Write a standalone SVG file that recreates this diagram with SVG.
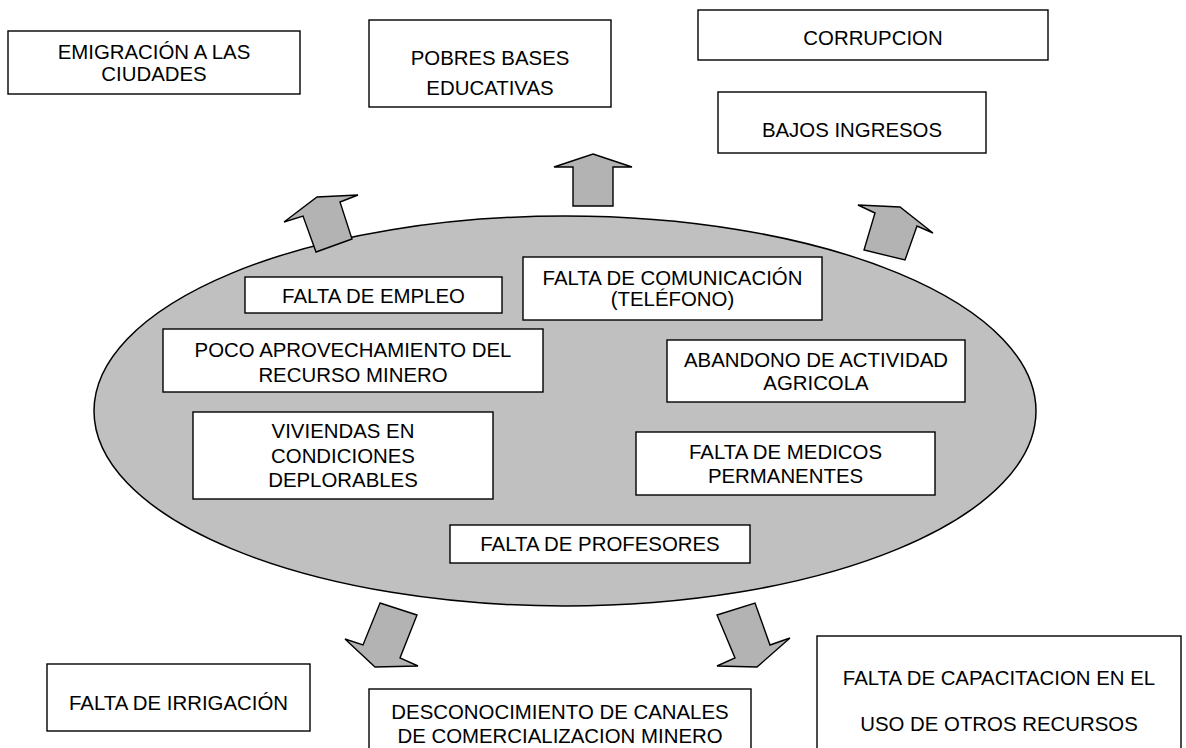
<svg xmlns="http://www.w3.org/2000/svg" width="1186" height="748" viewBox="0 0 1186 748">
<style>
.box{fill:#fff;stroke:#000;stroke-width:1.4}
.t{font-family:"Liberation Sans",Arial,sans-serif;font-size:20.4px;fill:#000;text-anchor:middle}
.arr{fill:#b3b3b3;stroke:#000;stroke-width:1.4;stroke-linejoin:miter}
</style>
<rect width="1186" height="748" fill="#fff"/>
<g id="problema">
<ellipse cx="565" cy="411" rx="471" ry="195" fill="#c0c0c0" stroke="#000" stroke-width="1.5"/>
</g>
<g id="connectors">
<polygon class="arr" points="593,154 632,167 613,167 613,206 573,206 573,167 554,167"/>
<polygon class="arr" points="284,222 317,197 358,195 340,202 352,239 316,252 303,216"/>
<polygon class="arr" points="858,205 900,207 933,233 917,226 905,260 864,250 875,213"/>
<polygon class="arr" points="380,603 417,615 400,658 418,666 375,667 345,639 363,645"/>
<polygon class="arr" points="717,615 755,603 770,645 790,638 757,667 717,666 735,658"/>
</g>
<g id="emigracion"><rect class="box" x="8" y="31" width="292" height="63"/><text class="t" x="154" y="59">EMIGRACIÓN A LAS</text><text class="t" x="154" y="81">CIUDADES</text></g>
<g id="pobres"><rect class="box" x="369" y="20" width="242" height="87"/><text class="t" x="490" y="65">POBRES BASES</text><text class="t" x="490" y="95">EDUCATIVAS</text></g>
<g id="corrupcion"><rect class="box" x="698" y="10" width="350" height="50"/><text class="t" x="873" y="45">CORRUPCION</text></g>
<g id="bajos"><rect class="box" x="718" y="92" width="268" height="61"/><text class="t" x="852" y="137">BAJOS INGRESOS</text></g>
<g id="empleo"><rect class="box" x="245" y="277" width="257" height="36"/><text class="t" x="373.5" y="302.5">FALTA DE EMPLEO</text></g>
<g id="comunicacion"><rect class="box" x="523" y="257" width="299" height="63"/><text class="t" x="672.5" y="285">FALTA DE COMUNICACIÓN</text><text class="t" x="672.5" y="306">(TELÉFONO)</text></g>
<g id="poco"><rect class="box" x="163" y="329" width="380" height="63"/><text class="t" x="353" y="357">POCO APROVECHAMIENTO DEL</text><text class="t" x="353" y="382">RECURSO MINERO</text></g>
<g id="abandono"><rect class="box" x="667" y="340" width="298" height="62"/><text class="t" x="816" y="367">ABANDONO DE ACTIVIDAD</text><text class="t" x="816" y="390">AGRICOLA</text></g>
<g id="viviendas"><rect class="box" x="193" y="412" width="300" height="87"/><text class="t" x="343" y="438">VIVIENDAS EN</text><text class="t" x="343" y="463">CONDICIONES</text><text class="t" x="343" y="487">DEPLORABLES</text></g>
<g id="medicos"><rect class="box" x="636" y="432" width="299" height="63"/><text class="t" x="785.5" y="459">FALTA DE MEDICOS</text><text class="t" x="785.5" y="483">PERMANENTES</text></g>
<g id="profesores"><rect class="box" x="450" y="525" width="300" height="38"/><text class="t" x="600" y="551">FALTA DE PROFESORES</text></g>
<g id="irrigacion"><rect class="box" x="47" y="664" width="263" height="67"/><text class="t" x="178.5" y="710">FALTA DE IRRIGACIÓN</text></g>
<g id="desconocimiento"><rect class="box" x="369" y="689" width="382" height="70"/><text class="t" x="560" y="719">DESCONOCIMIENTO DE CANALES</text><text class="t" x="560" y="743">DE COMERCIALIZACION MINERO</text></g>
<g id="capacitacion"><rect class="box" x="817" y="636" width="364" height="130"/><text class="t" x="999" y="685">FALTA DE CAPACITACION EN EL</text><text class="t" x="999" y="731">USO DE OTROS RECURSOS</text></g>
</svg>
